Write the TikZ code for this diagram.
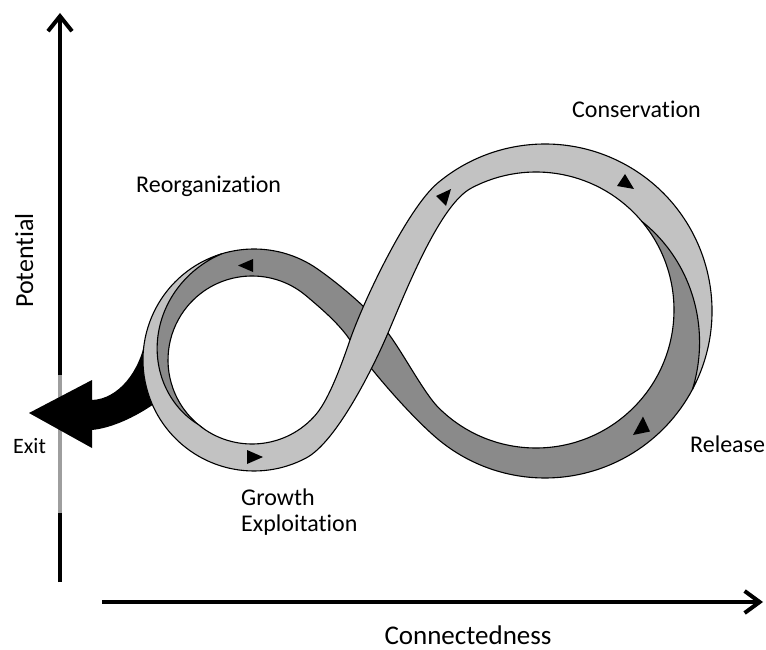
\documentclass[tikz,border=0pt]{standalone}
\usepackage{fontspec}
\setmainfont{Carlito}[Ligatures=NoCommon]
\usetikzlibrary{arrows.meta}
\definecolor{lightband}{gray}{0.76}
\definecolor{darkband}{gray}{0.54}
\definecolor{axisgray}{gray}{0.62}
\tikzset{
  edge/.style={draw=black, line width=1.1pt, line join=round},
  lbl/.style={font=\fontsize{24}{28}\selectfont, anchor=base west, inner sep=0pt},
  axisline/.style={line width=4pt},
  flowtip/.style={fill=black},
}
\begin{document}
\begin{tikzpicture}[x=1pt,y=-1pt]
\useasboundingbox (0,0) rectangle (766,650);

% axes
\coordinate (vBot) at (60,582);
\coordinate (vG1) at (60,513);
\coordinate (vG2) at (60,375);
\coordinate (vTop) at (60,13);
\coordinate (hL) at (102,602);
\coordinate (hR) at (763,602);
\draw[axisline] (vBot) -- (vG1);
\draw[axisline, axisgray] (vG1) -- (vG2);
\draw[axisline, -{Straight Barb[length=15pt,width=24pt]}] (vG2) -- (vTop);
\draw[axisline, -{Straight Barb[length=15pt,width=22pt]}] (hL) -- (hR);

% dark band (Release -> Reorganization)
\filldraw[fill=darkband, edge]
  plot[domain=140:253, samples=40, smooth, variable=\t]
    ({(1-(1+(\t-130)/123)/2)*(252+84*cos(\t))+((1+(\t-130)/123)/2)*(254+111*cos(\t))},
     {(1-(1+(\t-130)/123)/2)*(360+84*sin(\t))+((1+(\t-130)/123)/2)*(360+111*sin(\t))})
  arc[start angle=253, end angle=305, radius=111]
  .. controls (342.3,286.3) and (373,313) .. (388,333)
  .. controls (403,353) and (424.3,393.5) .. ({536+138*cos(135)},{310+138*sin(135)})
  arc[start angle=135, end angle=-40, radius=138]
  -- plot[domain=323:388, samples=30, smooth, variable=\t]
    ({(1-(1+(\t-320)/68)/2)*(536+138*cos(\t))+((1+(\t-320)/68)/2)*(545+167*cos(\t))},
     {(1-(1+(\t-320)/68)/2)*(310+138*sin(\t))+((1+(\t-320)/68)/2)*(311+167*sin(\t))})
  arc[start angle=388, end angle=490, radius=167]
  .. controls (410.9,416.4) and (369.6,369) .. (350,340)
  .. controls (338.8,323.4) and (321.3,308.6) .. ({252+84*cos(310)},{360+84*sin(310)})
  arc[start angle=310, end angle=125, radius=84]
  -- cycle;

% exit arrow
\fill[black] (29,413) -- (92,380) -- (92,400) .. controls (118,399) and (140,372) .. (145.5,338)
  -- (154,345) -- (156,400) -- (152.5,405) .. controls (135,417) and (112,428) .. (92,430)
  -- (92,448) -- cycle;

% light band (Exploitation -> Conservation)
\filldraw[fill=lightband, edge]
  ({254+111*cos(253)},{360+111*sin(253)})
  arc[start angle=253, end angle=62, radius=111]
  .. controls (337,441.6) and (374.3,365.2) .. (388,333)
  .. controls (407.5,287) and (440.3,204.6) .. ({536+138*cos(242)},{310+138*sin(242)})
  arc[start angle=242, end angle=320, radius=138]
  -- plot[domain=320:388, samples=40, smooth, variable=\t]
    ({(1-(\t-320)/68)*(536+138*cos(\t))+((\t-320)/68)*(545+167*cos(\t))},
     {(1-(\t-320)/68)*(310+138*sin(\t))+((\t-320)/68)*(311+167*sin(\t))})
  arc[start angle=388, end angle=230, radius=167]
  .. controls (407.1,208.8) and (363,302.2) .. (350,340)
  .. controls (341.9,363.7) and (329.2,398.7) .. ({252+84*cos(40)},{360+84*sin(40)})
  arc[start angle=40, end angle=130, radius=84]
  -- plot[domain=130:253, samples=40, smooth, variable=\t]
    ({(1-(\t-130)/123)*(252+84*cos(\t))+((\t-130)/123)*(254+111*cos(\t))},
     {(1-(\t-130)/123)*(360+84*sin(\t))+((\t-130)/123)*(360+111*sin(\t))})
  -- cycle;

% flow triangles
\fill[flowtip] (253,259) -- (253,272) -- (238,265.5) -- cycle;
\fill[flowtip] (247,450) -- (247,464) -- (263,457) -- cycle;
\fill[flowtip] (451,189) -- (446,206) -- (436,196) -- cycle;
\fill[flowtip] (634,189) -- (625,174) -- (617,186) -- cycle;
\fill[flowtip] (643,416.5) -- (633,435) -- (650,431.5) -- cycle;

% labels
\node[lbl] (cons) at (572,118) {Conservation};
\node[lbl] (reorg) at (136,193) {Reorganization};
\node[lbl] (rel) at (690,452) {Release};
\node[lbl] (grow) at (241,505) {Growth};
\node[lbl] (expl) at (241,531) {Exploitation};
\node[lbl, font=\fontsize{22}{26}\selectfont] (exit) at (13,453) {Exit};
\node[lbl, font=\fontsize{26}{30}\selectfont, rotate=90] (pot) at (33,308) {Potential};
\node[lbl, font=\fontsize{27}{32}\selectfont, anchor=base] (conn) at (468,644) {Connectedness};
\end{tikzpicture}
\end{document}
